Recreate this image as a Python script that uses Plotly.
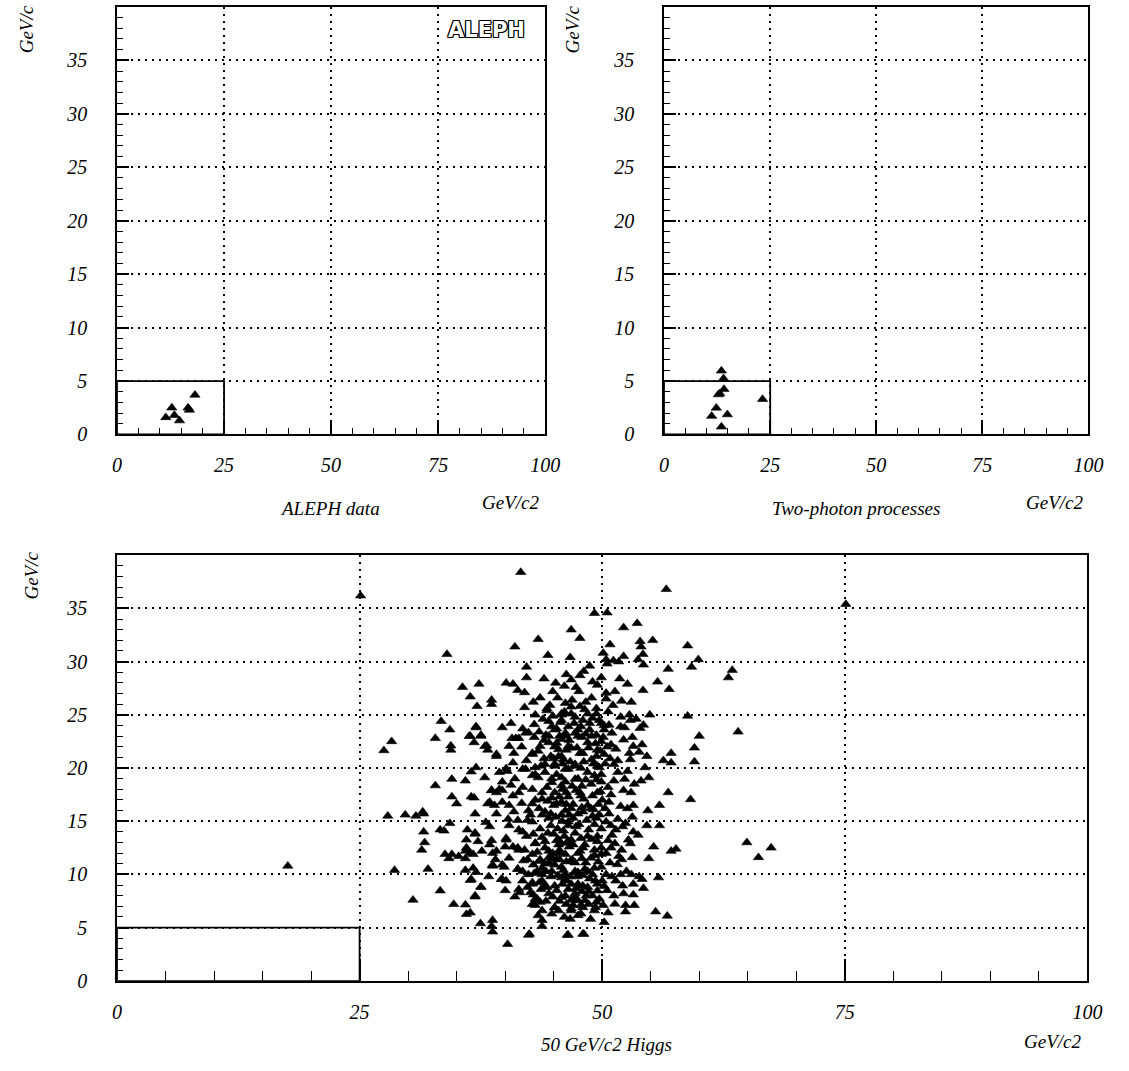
import plotly.graph_objects as go

# ---- data -------------------------------------------------------------
aleph_x = [18.2, 12.8, 16.6, 16.9, 11.4, 13.4, 14.6]
aleph_y = [3.7, 2.5, 2.5, 2.3, 1.6, 1.8, 1.3]

twophoton_x = [13.5, 14.0, 14.1, 13.1, 12.8, 23.2, 12.3, 11.2, 14.9, 13.5]
twophoton_y = [5.96, 5.24, 4.24, 3.84, 3.74, 3.30, 2.49, 1.72, 1.87, 0.72]

# (mass, momentum) pairs for the simulated 50 GeV/c2 Higgs sample
higgs_points = [
    (25.1, 36.2), (41.6, 38.4), (56.6, 36.8), (75.1, 35.4), (17.6, 10.8),
    (66.1, 11.6), (67.4, 12.5),
    (46.8, 33.0), (43.4, 32.1), (41.0, 31.4), (34.0, 30.7), (44.4, 30.6),
    (46.7, 30.4), (42.2, 29.5), (42.2, 28.5), (44.0, 28.4), (46.3, 28.8),
    (46.8, 28.3), (35.6, 27.6), (37.3, 27.9), (40.1, 28.0), (40.8, 27.9),
    (41.3, 27.3), (42.0, 27.1), (36.4, 26.7), (38.6, 26.4), (38.6, 26.0),
    (37.1, 25.8), (42.0, 25.7), (46.2, 26.1), (46.8, 25.75), (44.3, 25.4),
    (43.1, 25.0), (33.4, 24.4), (34.3, 23.6), (37.0, 23.8), (39.7, 23.8),
    (40.6, 24.2), (41.8, 23.7), (42.4, 23.35), (43.5, 23.4), (44.5, 24.4),
    (45.1, 23.6), (45.8, 24.5), (46.5, 23.9), (32.8, 22.8), (36.3, 23.0),
    (37.5, 23.1), (36.8, 22.4), (28.3, 22.5), (27.5, 21.65), (34.4, 22.1),
    (34.4, 21.7), (37.9, 22.05), (38.2, 21.7), (40.7, 22.8), (40.4, 22.05),
    (41.4, 22.8), (40.9, 21.4), (39.1, 21.1), (44.5, 23.0), (45.3, 22.35),
    (45.8, 22.7), (46.3, 21.7), (43.6, 22.05), (42.8, 21.3), (45.5, 21.1),
    (44.1, 20.35), (37.0, 20.05), (40.1, 19.95), (41.8, 19.9), (43.1, 20.05),
    (45.1, 20.2), (46.5, 19.9),
    (49.2, 34.55), (50.5, 34.6), (52.2, 33.2), (53.6, 33.6), (47.7, 32.2),
    (50.8, 31.6), (53.9, 31.9), (55.2, 32.0), (58.8, 31.5), (50.1, 30.8),
    (52.2, 30.5), (54.0, 31.4), (54.2, 30.7), (53.7, 30.2), (50.4, 30.2),
    (51.15, 30.1), (51.7, 30.0), (48.7, 29.6), (50.5, 29.8), (54.25, 29.7),
    (59.9, 30.2), (59.2, 29.5), (56.8, 29.3), (63.4, 29.2), (63.0, 28.5),
    (47.7, 28.7), (47.3, 27.6), (49.5, 27.8), (51.8, 28.4), (49.9, 28.5),
    (55.7, 28.1), (56.9, 27.4), (54.2, 27.3), (50.4, 27.05), (50.4, 26.5),
    (53.0, 26.2), (45.8, 25.1), (47.2, 24.8), (48.5, 25.1), (49.4, 25.6),
    (49.7, 24.5), (48.7, 24.2), (47.8, 23.9), (45.6, 23.0), (47.5, 23.0),
    (49.4, 23.1), (50.2, 23.6), (48.5, 22.4), (46.5, 22.05), (49.5, 21.7),
    (47.7, 21.4), (45.8, 21.1), (48.9, 20.8), (50.2, 21.3), (47.2, 20.35),
    (49.5, 20.2), (51.9, 24.8), (52.8, 25.0), (52.9, 24.5), (54.9, 25.0),
    (58.8, 24.9), (50.7, 24.05), (51.9, 23.9), (53.9, 23.75), (54.25, 24.05),
    (60.0, 23.0), (64.0, 23.4), (52.2, 22.65), (53.2, 22.05), (54.1, 22.2),
    (50.9, 22.2), (52.8, 21.4), (59.5, 21.9), (57.1, 21.4), (52.9, 20.8),
    (54.6, 21.1), (56.3, 20.7), (57.1, 20.5), (59.5, 20.6), (51.2, 20.35),
    (54.4, 20.05),
    (34.5, 18.96), (32.8, 18.35), (37.9, 19.1), (35.9, 18.8), (38.6, 17.9),
    (39.7, 17.9), (40.8, 17.4), (41.8, 18.2), (42.8, 19.3), (43.8, 17.7),
    (44.8, 18.65), (45.8, 19.1), (46.3, 17.7), (34.5, 17.3), (35.0, 16.65),
    (36.8, 17.2), (38.2, 16.65), (38.9, 16.5), (39.7, 16.8), (42.8, 16.65),
    (43.5, 16.2), (45.3, 16.65), (31.5, 15.9), (27.9, 15.5), (29.7, 15.6),
    (30.8, 15.5), (31.6, 15.7), (36.9, 15.7), (39.1, 15.7), (40.9, 15.9),
    (42.3, 15.1), (44.5, 15.3), (45.8, 15.6), (47.0, 15.3), (34.3, 14.8),
    (31.6, 14.0), (33.3, 14.2), (33.7, 14.1), (36.1, 14.2), (36.9, 13.8),
    (38.4, 14.5), (40.4, 14.6), (41.4, 14.2), (42.8, 14.95), (45.4, 14.3),
    (46.5, 14.6), (31.7, 13.0), (36.0, 13.25), (37.2, 13.1), (38.6, 13.2),
    (40.1, 13.25), (40.8, 12.6), (41.4, 12.3), (43.1, 12.95), (44.1, 13.1),
    (45.3, 13.2), (46.3, 12.95), (31.4, 12.3), (36.0, 12.5), (35.9, 12.2),
    (39.1, 12.2), (44.5, 12.2), (45.6, 12.0), (33.8, 11.9), (34.5, 11.9),
    (35.2, 11.7), (36.7, 11.9), (42.3, 11.4), (43.5, 11.25), (44.5, 11.1),
    (45.3, 11.4), (46.7, 11.25), (34.2, 11.5), (35.9, 11.5), (28.6, 10.4),
    (32.05, 10.5), (35.9, 10.4), (36.7, 10.6), (37.0, 10.2), (38.7, 10.8),
    (39.9, 10.7), (41.3, 10.5), (42.4, 10.0), (43.8, 10.0), (44.8, 10.3),
    (46.2, 10.0), (36.4, 9.45), (37.5, 8.84), (39.6, 9.55), (40.1, 9.4),
    (41.8, 9.4), (42.8, 9.1), (43.5, 9.24), (44.1, 8.93), (45.1, 8.93),
    (46.3, 9.4), (33.3, 8.47), (41.5, 8.3), (42.6, 8.3), (43.3, 7.7),
    (36.9, 7.9), (46.2, 8.0), (30.5, 7.6), (34.7, 7.2), (35.9, 7.15),
    (42.8, 7.2), (43.6, 7.4), (45.1, 6.9), (36.0, 6.25), (36.4, 6.4),
    (43.4, 6.15), (46.8, 6.6), (37.45, 5.38), (38.7, 5.7), (38.6, 5.14),
    (38.7, 4.61), (43.8, 5.14), (42.5, 4.4), (46.4, 4.3), (40.25, 3.44),
    (56.8, 17.7), (59.1, 17.05), (54.0, 18.8), (54.8, 19.1), (52.97, 17.7),
    (53.2, 16.5), (54.7, 16.0), (55.9, 16.5), (52.3, 18.96), (51.2, 18.8),
    (49.2, 19.3), (47.2, 18.96), (45.8, 18.35), (47.8, 17.4), (49.5, 17.7),
    (50.7, 16.8), (48.5, 16.5), (46.8, 16.2), (45.8, 16.8), (49.4, 15.3),
    (48.4, 15.1), (46.5, 14.95), (50.4, 14.95), (52.4, 14.8), (54.6, 14.6),
    (55.9, 14.6), (53.2, 14.0), (53.7, 13.7), (51.4, 14.2), (49.5, 13.6),
    (47.8, 13.4), (46.5, 13.1), (45.5, 13.25), (52.7, 13.25), (55.3, 12.6),
    (57.1, 12.2), (57.6, 12.4), (64.9, 13.0), (45.6, 12.3), (47.7, 12.2),
    (49.2, 12.3), (50.4, 12.0), (51.7, 11.7), (53.1, 11.6), (54.8, 11.5),
    (51.55, 10.94), (45.6, 11.4), (47.2, 11.1), (47.5, 10.2), (48.5, 10.3),
    (49.2, 10.6), (50.4, 10.0), (52.5, 10.3), (53.8, 9.8), (54.1, 9.55),
    (55.8, 9.7), (45.8, 9.7), (46.8, 9.1), (48.0, 8.93), (51.4, 9.4),
    (52.1, 8.93), (53.2, 9.1), (54.25, 8.7), (49.5, 8.47), (45.8, 7.85),
    (47.2, 7.85), (48.35, 8.0), (51.2, 8.0), (53.2, 8.1), (49.7, 7.7),
    (47.0, 7.1), (48.0, 6.9), (51.3, 7.23), (52.4, 7.1), (52.4, 6.5),
    (55.5, 6.5), (56.7, 6.1), (47.5, 6.15), (50.2, 5.5), (48.1, 4.4),
    (44.3, 25.6), (45.8, 25.0), (46.8, 25.1), (48.0, 24.5), (49.4, 25.1),
    (49.9, 24.2), (44.8, 23.9), (46.2, 23.3), (47.5, 23.6), (48.9, 23.0),
    (49.9, 22.5), (44.5, 22.4), (45.5, 21.75), (46.8, 21.9), (48.0, 21.4),
    (49.4, 21.1), (45.1, 20.4), (46.2, 19.9), (47.2, 20.2), (48.5, 19.6),
    (49.7, 20.05), (44.8, 19.0), (46.2, 18.7), (47.5, 19.0), (48.85, 18.5),
    (49.9, 18.7), (45.1, 17.7), (46.5, 17.3), (47.7, 17.7), (49.0, 17.4),
    (50.0, 17.0), (45.0, 16.5), (46.2, 16.0), (47.5, 15.7), (48.85, 16.2),
    (49.7, 15.6), (41.1, 22.8), (42.1, 23.3), (42.8, 21.4), (40.8, 20.5),
    (42.1, 19.9), (43.1, 19.4), (39.7, 18.7), (41.4, 17.7), (42.8, 18.0),
    (43.8, 17.1), (42.4, 16.0), (43.8, 15.6), (39.1, 17.7), (38.4, 16.8),
    (40.4, 16.5), (37.0, 23.9), (36.4, 23.0), (37.5, 23.0), (38.1, 22.1),
    (39.1, 21.3), (36.5, 19.65), (39.4, 19.6), (40.2, 19.7), (38.6, 17.9),
    (39.4, 18.0), (36.5, 17.3),
    (43.1, 12.9), (44.1, 12.5), (45.5, 12.8), (46.8, 13.25), (48.2, 12.8),
    (49.5, 13.1), (42.8, 11.9), (44.5, 11.6), (46.2, 11.9), (47.5, 12.0),
    (48.85, 11.55), (49.9, 11.9), (43.8, 10.6), (45.1, 10.9), (47.2, 10.3),
    (48.2, 10.5), (49.0, 10.0), (42.8, 9.24), (43.8, 9.4), (46.2, 9.55),
    (47.5, 9.1), (48.5, 8.8), (49.5, 9.1), (43.1, 7.7), (44.5, 8.2),
    (47.2, 8.2), (48.2, 7.55), (49.4, 7.4), (43.8, 6.6), (45.1, 6.9),
    (46.8, 6.8), (47.8, 6.3), (49.2, 6.6), (47.5, 7.55), (36.9, 13.9),
    (38.4, 12.8), (40.1, 13.4), (41.3, 12.5), (38.7, 12.0), (40.4, 11.55),
    (36.4, 12.0), (38.7, 10.9), (39.7, 10.9), (41.3, 10.5), (36.5, 9.55),
    (39.7, 9.55), (41.4, 8.6), (37.5, 8.8), (36.9, 8.0), (43.1, 7.1),
    (43.8, 5.7), (46.5, 4.3), (48.0, 4.4), (42.4, 4.3),
    # densest part of the cluster
    (43.9, 24.6), (44.9, 24.9), (46.1, 25.3), (47.1, 24.2), (48.2, 25.5),
    (49.0, 24.7), (50.6, 25.3), (44.2, 23.1), (45.3, 23.7), (46.6, 22.6),
    (47.9, 22.9), (48.7, 23.6), (50.1, 22.9), (43.4, 21.6), (44.7, 21.1),
    (46.0, 20.8), (47.4, 21.9), (48.6, 21.9), (49.8, 21.6), (50.8, 20.9),
    (43.7, 20.2), (45.9, 20.4), (48.1, 20.6), (49.1, 20.4), (51.4, 21.8),
    (51.0, 23.3), (52.3, 23.8), (53.5, 24.6), (52.0, 26.3), (51.1, 25.9),
    (48.3, 26.2), (46.9, 26.4), (45.4, 26.6), (47.6, 27.2), (49.0, 28.1),
    (48.1, 29.1), (44.9, 27.2), (43.6, 26.6),
    (43.4, 19.1), (44.3, 18.2), (45.3, 19.4), (46.9, 18.3), (47.9, 18.3),
    (49.4, 18.9), (50.6, 18.2), (51.6, 19.6), (52.6, 19.7), (53.3, 18.5),
    (43.1, 17.0), (44.4, 16.9), (45.6, 17.3), (47.0, 16.6), (48.1, 17.1),
    (49.6, 16.6), (50.9, 17.5), (51.9, 16.4), (52.2, 17.9), (42.6, 15.6),
    (44.1, 15.9), (45.2, 15.4), (46.6, 15.6), (48.0, 15.9), (49.0, 15.5),
    (50.7, 15.7), (51.6, 15.2), (53.1, 15.4), (43.6, 14.3), (44.7, 14.6),
    (46.0, 14.1), (47.3, 14.5), (48.6, 14.2), (49.9, 14.3), (51.0, 13.7),
    (52.1, 14.5),
    (42.2, 13.6), (43.8, 13.5), (45.0, 13.8), (46.1, 13.6), (47.2, 13.9),
    (48.5, 13.6), (50.6, 13.2), (42.0, 12.3), (43.3, 12.1), (44.9, 12.0),
    (46.6, 12.6), (48.0, 12.5), (49.2, 11.8), (50.9, 12.5), (52.0, 12.3),
    (42.9, 10.9), (44.1, 11.0), (45.8, 10.7), (46.9, 11.4), (48.3, 11.1),
    (49.6, 11.2), (50.8, 11.1), (52.0, 11.4), (41.8, 10.3), (43.3, 10.3),
    (44.7, 9.8), (46.0, 10.4), (47.4, 9.8), (48.7, 9.6), (50.0, 9.4),
    (51.0, 9.8), (53.0, 10.0), (42.3, 8.8), (43.7, 8.6), (45.3, 8.5),
    (46.5, 8.6), (47.9, 8.4), (49.0, 8.0), (50.5, 8.5), (52.2, 8.2),
    (44.2, 7.5), (45.6, 7.5), (46.8, 7.6), (48.6, 7.2), (50.1, 7.1),
    (44.8, 6.3), (46.1, 6.0), (48.8, 5.8), (41.0, 7.9), (40.0, 8.5),
    (39.0, 11.4), (40.0, 12.6), (41.8, 14.0), (40.3, 15.2), (38.0, 14.9),
    (37.6, 12.2), (38.3, 9.8),
    (44.6, 25.9), (45.7, 24.3), (47.7, 25.8), (48.9, 26.6), (50.2, 24.0),
    (44.0, 22.6), (45.1, 22.0), (46.3, 23.0), (47.2, 23.3), (48.3, 23.2),
    (49.3, 22.3), (50.5, 22.0), (43.0, 22.9), (44.0, 20.9), (45.0, 20.9),
    (46.7, 20.6), (47.8, 20.0), (49.9, 19.4), (50.3, 20.4), (44.1, 19.6),
    (45.9, 18.0), (47.3, 17.9), (48.3, 18.9), (49.8, 17.8), (44.8, 17.2),
    (46.3, 16.6), (47.9, 16.3), (49.1, 16.1), (50.3, 16.2), (44.7, 15.7),
    (45.9, 15.0), (47.6, 14.7), (49.2, 14.7), (50.9, 14.6), (44.4, 13.9),
    (45.7, 13.0), (47.0, 12.8), (48.9, 13.3), (49.9, 12.5), (43.6, 11.4),
    (44.9, 11.5), (46.3, 11.2), (47.9, 11.5), (49.9, 10.7), (43.0, 10.1),
    (44.2, 10.3), (45.4, 9.9), (46.7, 9.8), (48.0, 9.9), (49.3, 9.4),
    (42.9, 8.1), (44.3, 8.8), (45.9, 9.1), (47.3, 8.7), (48.6, 8.4),
    (50.2, 8.9), (44.9, 7.9), (46.3, 7.2), (47.8, 7.1), (49.3, 6.9),
    (45.5, 6.6), (46.7, 5.8), (42.9, 13.8), (41.9, 11.3), (41.3, 15.1),
    (41.7, 16.7), (40.6, 18.4), (41.0, 19.0), (42.2, 20.7), (41.7, 22.0),
    (43.0, 24.1), (42.9, 26.2), (45.2, 28.0), (46.1, 27.7), (51.3, 27.2),
    (52.6, 27.9), (53.1, 22.9), (51.6, 20.7), (53.8, 21.5), (52.6, 16.2),
    (51.3, 12.9), (52.9, 12.9), (51.9, 10.0), (50.6, 6.4), (53.3, 7.1),
]
higgs_x = [p[0] for p in higgs_points]
higgs_y = [p[1] for p in higgs_points]

x_ticks = [0, 25, 50, 75, 100]
y_ticks = [0, 5, 10, 15, 20, 25, 30, 35]

# ---- page geometry (pixels) ------------------------------------------
W, H = 1129, 1071


def dom_x(a, b):
    return [a / W, b / W]


def dom_y(top, bottom):
    return [1 - bottom / H, 1 - top / H]


serif = "Liberation Serif"
tick_font = dict(family=serif, size=20, color="black", style="italic")
label_font = dict(family=serif, size=19, color="black", style="italic")

fig = go.Figure()

marker = dict(symbol="triangle-up", color="black", size=9,
              line=dict(width=0.6, color="black"))

fig.add_trace(go.Scatter(x=aleph_x, y=aleph_y, mode="markers", marker=marker,
                         xaxis="x", yaxis="y", showlegend=False, hoverinfo="skip"))
fig.add_trace(go.Scatter(x=twophoton_x, y=twophoton_y, mode="markers", marker=marker,
                         xaxis="x2", yaxis="y2", showlegend=False, hoverinfo="skip"))
fig.add_trace(go.Scatter(x=higgs_x, y=higgs_y, mode="markers", marker=marker,
                         xaxis="x3", yaxis="y3", showlegend=False, hoverinfo="skip"))


def x_axis(domain, anchor, major_len, minor_len, standoff):
    return dict(
        domain=domain, anchor=anchor, range=[0, 100], tickvals=x_ticks,
        ticktext=[str(v) for v in x_ticks], ticks="inside", ticklen=major_len,
        tickwidth=1.5, tickcolor="black", tickfont=tick_font,
        ticklabelstandoff=standoff,
        minor=dict(dtick=5, tick0=0, ticks="inside", ticklen=minor_len,
                   tickwidth=1.2, tickcolor="black", showgrid=False),
        showgrid=True, gridcolor="black", griddash="2px,5px", gridwidth=1.5,
        showline=True, linecolor="black", linewidth=2, mirror=True,
        zeroline=False, fixedrange=True,
    )


def y_axis(domain, anchor, top, standoff):
    return dict(
        domain=domain, anchor=anchor, range=[0, top], tickvals=y_ticks,
        ticktext=[str(v) for v in y_ticks], ticks="inside", ticklen=12,
        tickwidth=1.5, tickcolor="black", tickfont=tick_font,
        ticklabelstandoff=standoff,
        minor=dict(dtick=1, tick0=0, ticks="inside", ticklen=6,
                   tickwidth=1.2, tickcolor="black", showgrid=False),
        showgrid=True, gridcolor="black", griddash="2px,5px", gridwidth=1.5,
        showline=True, linecolor="black", linewidth=1.5, mirror=True,
        zeroline=False, fixedrange=True,
    )


fig.update_layout(
    width=W, height=H, margin=dict(l=0, r=0, t=0, b=0),
    paper_bgcolor="white", plot_bgcolor="white", showlegend=False,
    xaxis=x_axis(dom_x(114, 550), "y", 12, 6, 12),
    yaxis=y_axis(dom_y(7, 439), "x", 40, 24),
    xaxis2=x_axis(dom_x(671, 1103), "y2", 12, 6, 12),
    yaxis2=y_axis(dom_y(7, 439), "x2", 40, 24),
    xaxis3=x_axis(dom_x(114, 1102), "y3", 22, 10, 12),
    yaxis3=y_axis(dom_y(561, 991), "x3", 40, 24),
)

# signal box: m < 25 GeV/c2, p < 5 GeV/c
for xr, yr in (("x", "y"), ("x2", "y2"), ("x3", "y3")):
    fig.add_shape(type="rect", xref=xr, yref=yr, x0=0, x1=25, y0=0, y1=5,
                  line=dict(color="black", width=1.8), fillcolor="rgba(0,0,0,0)")


def text(x, y, s, font=label_font, angle=0):
    fig.add_annotation(x=x / W, y=1 - y / H, xref="paper", yref="paper", text=s,
                       showarrow=False, font=font, textangle=angle,
                       xanchor="center", yanchor="middle")


text(22, 30, "GeV/c", angle=-90)
text(578, 30, "GeV/c", angle=-90)
text(27, 582, "GeV/c", angle=-90)
text(331, 514, "ALEPH data")
text(515, 508, "GeV/c2")
text(866, 514, "Two-photon processes")
text(1068, 508, "GeV/c2")
text(612, 1055, "50 GeV/c2 Higgs")
text(1066, 1052, "GeV/c2")

# outlined experiment logo
fig.add_annotation(
    x=490 / W, y=1 - 30 / H, xref="paper", yref="paper", text="<b>ALEPH</b>",
    showarrow=False, xanchor="center", yanchor="middle",
    font=dict(family="DejaVu Sans", size=21, color="white",
              shadow="1px 1px 0 black, -1px -1px 0 black, 1px -1px 0 black, "
                     "-1px 1px 0 black, 0 1px 0 black, 0 -1px 0 black, "
                     "1px 0 0 black, -1px 0 0 black"),
)

fig.write_html("out.html")
